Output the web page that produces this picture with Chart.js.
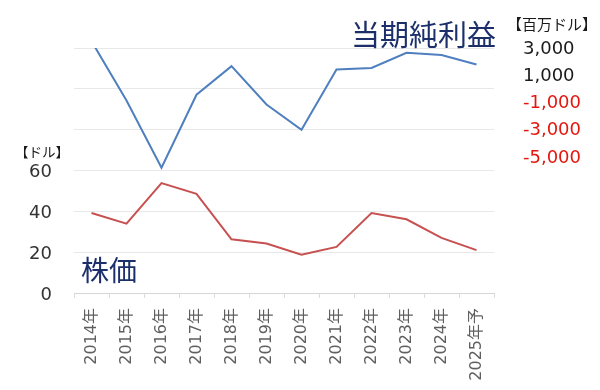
<!DOCTYPE html>
<html>
<head>
<meta charset="utf-8">
<script src="https://cdn.jsdelivr.net/npm/chart.js@4"></script>
<style>
  html, body { margin: 0; padding: 0; background: #fff; }
  #wrap { position: relative; width: 600px; height: 390px; overflow: hidden; }
  canvas { position: absolute; left: 0; top: 0; }
  .lbl { position: absolute; white-space: nowrap; font-family: "Noto Sans CJK JP", sans-serif; }
</style>
</head>
<body>
<div id="wrap">
  <canvas id="c" width="600" height="390"></canvas>
  <div class="lbl" style="left:351px; top:13px; font-size:29px; line-height:40px; color:#1c2f6b;">当期純利益</div>
  <div class="lbl" style="left:81px; top:249px; font-size:28px; line-height:40px; color:#1c2f6b;">株価</div>
  <div class="lbl" style="left:507px; top:13px; font-size:15px; line-height:22px; color:#1a1a1a;">【百万ドル】</div>
  <div class="lbl" style="left:15px; top:141px; font-size:13.5px; line-height:20px; color:#1a1a1a;">【ドル】</div>
</div>
<script>
const categories = ["2014年","2015年","2016年","2017年","2018年","2019年","2020年","2021年","2022年","2023年","2024年","2025年予"];
const netIncome = [3500, -850, -5790, -430, 1670, -1150, -3000, 1420, 1540, 2650, 2480, 1790];
const stockPrice = [39.2, 34.0, 53.8, 48.6, 26.3, 24.2, 18.7, 22.6, 39.2, 36.1, 27.0, 21.0];
const leftTicks = [0, 20, 40, 60];
const rightTicks = [3000, 1000, -1000, -3000, -5000];

const numFont = '"DejaVu Sans", "Noto Sans CJK JP", sans-serif';

new Chart(document.getElementById('c'), {
  type: 'line',
  data: {
    labels: categories,
    datasets: [
      { label: '当期純利益', data: netIncome, yAxisID: 'y1', borderColor: '#4f7fbf', borderWidth: 2, pointRadius: 0, tension: 0, fill: false, clip: 0 },
      { label: '株価', data: stockPrice, yAxisID: 'y', borderColor: '#c65150', borderWidth: 2, pointRadius: 0, tension: 0, fill: false }
    ]
  },
  options: {
    responsive: false,
    animation: false,
    devicePixelRatio: 1,
    layout: { padding: { top: 48, left: 0, right: 0, bottom: 0 } },
    plugins: { legend: { display: false }, tooltip: { enabled: false } },
    scales: {
      x: {
        offset: true,
        grid: { display: true, drawOnChartArea: false, drawTicks: true, tickLength: 5, offset: true, color: '#dcdcdc' },
        border: { display: true, color: '#d6d6d6', width: 1 },
        ticks: { minRotation: 90, maxRotation: 90, autoSkip: false, padding: 10, color: '#5f5f5f', font: { family: numFont, size: 16 } },
        afterFit: s => { s.height = 97; }
      },
      y: {
        position: 'left',
        min: 0, max: 120,
        grid: { color: '#e8e8e8', drawTicks: false },
        border: { display: false },
        afterBuildTicks: s => { s.ticks = [0,20,40,60,80,100,120].map(v => ({ value: v })); },
        ticks: {
          padding: 22, labelOffset: 2, color: '#333333', font: { family: numFont, size: 18 },
          callback: v => leftTicks.includes(v) ? String(v) : ''
        },
        afterFit: s => { s.width = 74; }
      },
      y1: {
        position: 'right',
        min: -14982, max: 3000,
        grid: { display: false, drawTicks: false },
        border: { display: false },
        afterBuildTicks: s => { s.ticks = rightTicks.map(v => ({ value: v })); },
        ticks: {
          padding: 29, labelOffset: 1, font: { family: numFont, size: 18 },
          color: ctx => (ctx.tick && ctx.tick.value < 0) ? '#e3170f' : '#1a1a1a',
          callback: v => v.toLocaleString('en-US')
        },
        afterFit: s => { s.width = 106; }
      }
    }
  }
});
</script>
</body>
</html>
